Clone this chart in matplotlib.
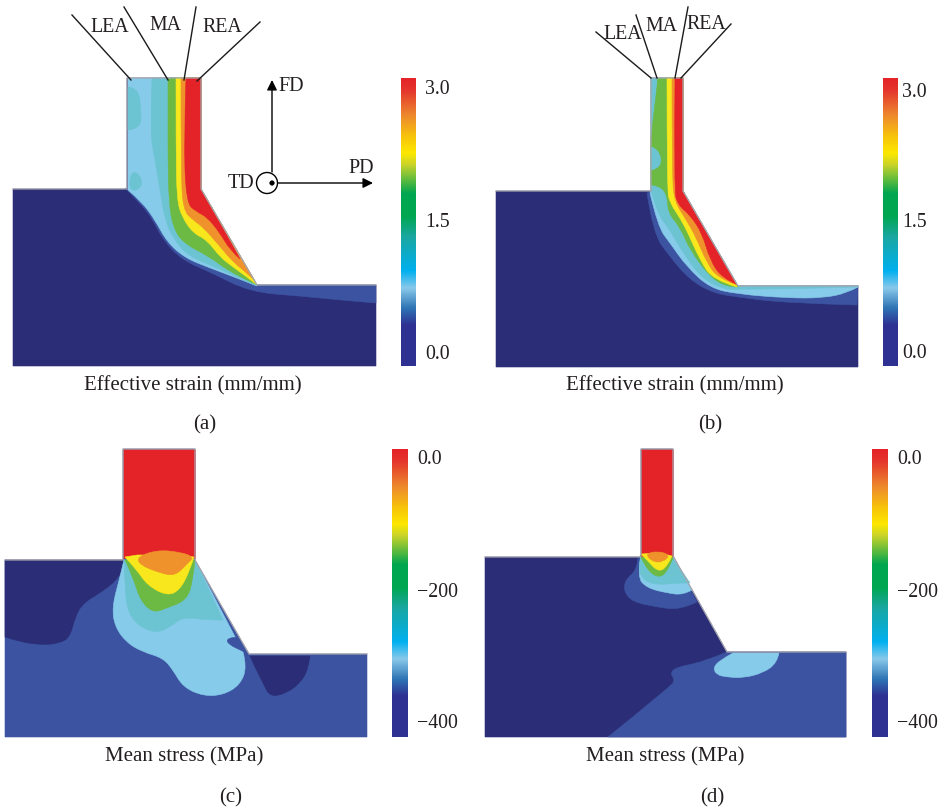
import matplotlib
matplotlib.use("Agg")
import matplotlib.pyplot as plt
import numpy as np
from matplotlib.colors import LinearSegmentedColormap
from matplotlib.patches import Circle, PathPatch
from matplotlib.path import Path

plt.rcParams['font.family'] = ['Liberation Serif', 'DejaVu Serif']

NAVY = "#2b2d76"
BLUE = "#3c53a1"
LIGHT = "#86cbe9"
TEAL = "#6cc4d3"
GREEN = "#6cb944"
YELLOW = "#f8e71c"
ORANGE = "#f0922b"
RED = "#e42329"
TEXT = "#231f20"

# colour scale, value 0 = bottom of the bar
bar_stops = [0.0, 0.14, 0.20, 0.27, 0.33, 0.45, 0.52, 0.60, 0.70, 0.74, 0.80, 0.87, 0.96, 1.0]
bar_colors = ["#2e3192", "#2e3192", "#2f74b5", "#89c9ea", "#00b0ef", "#1aa7a0", "#00a650",
              "#00a650", "#c9d32a", "#fde800", "#f7c20c", "#ee8a2e", "#e4352c", "#e42329"]

# each contour zone: (curved boundary, straight closing points), reference pixel coordinates
# closing list empty = smooth closed blob

# panel (a)
a_outline = [(13, 189), (127, 189), (127, 78), (201, 78), (201, 189), (257, 285), (376, 285), (376, 366), (13, 366)]
a_blue = ([(125, 188), (140, 203), (152, 218), (163, 240), (182, 260), (210, 272), (250, 292), (300, 296), (340, 300),
           (376, 303)], [(376, 285), (257, 285), (201, 189), (127, 189)])
a_light = ([(128, 190), (142, 202), (155, 220), (167, 242), (185, 258), (210, 268), (237, 278), (257, 286)],
           [(201, 189), (201, 78), (128, 78)])
a_teal = ([(152, 78), (150, 133), (155, 160), (160, 190), (165, 220), (173, 238), (187, 255), (210, 265), (257, 286)],
          [(201, 189), (201, 78)])
a_blot1 = ([(128, 87), (138, 88), (141, 108), (141, 129), (128, 130)], [(128, 87)])
a_blot2 = ([(131, 172), (138, 173), (143, 183), (137, 191), (129, 189)], [])
a_green = ([(168, 78), (168, 120), (168, 160), (169, 203), (173, 227), (183, 243), (210, 257), (227, 270), (253, 283),
            (257, 285)], [(201, 189), (201, 78)])
a_yellow = ([(176, 78), (176, 153), (177, 200), (182, 217), (193, 233), (207, 240), (220, 257), (233, 267), (255, 283),
             (257, 285)], [(201, 189), (201, 78)])
a_orange = ([(181, 78), (181, 170), (183, 210), (193, 220), (203, 227), (217, 243), (233, 262), (247, 273), (255, 281)],
            [(201, 189), (201, 78)])
a_red = ([(186, 78), (184, 137), (186, 203), (197, 212), (207, 217), (220, 233), (230, 250), (240, 259)],
         [(201, 189), (201, 78)])

# panel (b)
b_outline = [(496, 191), (651, 191), (651, 78), (683, 78), (683, 191), (738, 286), (858, 286), (858, 367), (496, 367)]
b_blue = ([(647, 193), (653, 233), (670, 257), (690, 280), (713, 293), (737, 297), (787, 303), (857, 305)],
          [(858, 286), (738, 286), (683, 191), (651, 191)])
b_light = ([(650, 193), (658, 227), (670, 243), (687, 267), (710, 288), (737, 294), (787, 298), (823, 298), (847, 293),
            (858, 287)], [(738, 286), (683, 191), (651, 191)])
b_teal = ([(651, 190), (657, 213), (670, 230), (683, 253), (703, 280), (727, 290), (738, 289), (790, 289), (858, 287)],
          [(858, 286), (738, 286), (683, 191), (683, 78), (651, 78)])
b_green = ([(658, 78), (659, 113), (652, 138)], [(651, 138), (651, 185)])
b_green2 = ([(651, 185), (657, 185), (667, 193), (668, 213), (680, 227), (690, 250), (710, 277), (727, 287), (738, 287)],
            [(683, 191), (683, 78), (658, 78), (651, 138)])
b_blot = ([(651, 147), (659, 149), (662, 168), (651, 170)], [(651, 147)])
b_yellow = ([(667, 78), (667, 190), (670, 203), (680, 218), (688, 233), (700, 260), (713, 280), (737, 287)],
            [(683, 191), (683, 78)])
b_orange = ([(672, 78), (672, 180), (675, 202), (685, 218), (695, 235), (707, 263), (718, 278), (737, 285)],
            [(683, 191), (683, 78)])
b_red = ([(675, 78), (674, 190), (678, 205), (690, 215), (702, 233), (710, 260), (722, 278), (736, 284)],
         [(683, 191), (683, 78)])

# panel (c)
c_outline = [(5, 560), (123, 560), (123, 449), (195, 449), (195, 560), (249, 654), (367, 654), (367, 737), (5, 737)]
c_navy1 = ([(123, 560), (123, 567), (117, 580), (100, 593), (83, 603), (75, 617), (70, 637), (60, 643), (43, 645),
            (20, 642), (5, 637)], [(5, 560)])
c_navy2 = ([(310, 656), (308, 670), (300, 683), (287, 693), (270, 697), (263, 683), (255, 667)], [(250, 656)])
c_light = ([(124, 560), (120, 577), (112, 607), (115, 627), (127, 643), (143, 652), (163, 658), (173, 670), (183, 687),
            (203, 696), (223, 695), (240, 685), (247, 667), (243, 652)], [(195, 560)])
c_tongue = ([(249, 654), (240, 650), (230, 645), (226, 640), (233, 637), (240, 638), (249, 654)], [(249, 654)])
c_teal = ([(223, 620), (207, 620), (183, 617), (170, 627), (157, 633), (140, 627), (128, 613), (125, 590), (124, 560)],
          [(195, 560)])
c_green = ([(125, 560), (133, 577), (140, 600), (153, 613), (167, 608), (187, 600), (193, 580), (195, 560)], [(195, 560)])
c_red = ([(123, 449), (195, 449)], [(195, 558), (123, 558)])
c_yellow = ([(125, 557), (137, 570), (147, 585), (167, 596), (180, 590), (190, 570), (194, 557)], [(180, 555), (137, 555)])
c_orange = ([(137, 557), (157, 550), (180, 552), (194, 557), (187, 564), (175, 576), (160, 573), (140, 565)], [])

# panel (d)
d_outline = [(485, 557), (641, 557), (641, 449), (673, 449), (673, 556), (727, 652), (846, 652), (846, 737), (485, 737)]
d_blue1 = ([(608, 737), (670, 687), (675, 680), (670, 673), (677, 667), (703, 662), (727, 652)],
           [(846, 652), (846, 737)])
d_blue2 = ([(638, 558), (637, 570), (625, 580), (624, 592), (633, 602), (657, 607), (680, 610), (697, 602)], [(673, 556)])
d_light1 = ([(641, 556), (637, 577), (647, 588), (667, 593), (683, 595), (692, 590)], [(673, 556)])
d_teal = ([(690, 583), (677, 583), (657, 585), (643, 580), (638, 567), (641, 556)], [(673, 558)])
d_green = ([(640, 555), (645, 567), (657, 578), (667, 573), (673, 558)], [(673, 555)])
d_red = ([(641, 449), (673, 449)], [(673, 556), (641, 556)])
d_yellow = ([(641, 554), (647, 560), (658, 572), (667, 567), (672, 556)], [(660, 553)])
d_orange = ([(645, 554), (658, 551), (670, 555), (663, 562), (653, 562)], [])
d_light2 = ([(733, 653), (720, 660), (713, 668), (717, 675), (727, 677), (743, 678), (763, 673), (777, 663), (779, 653)],
            [(733, 653)])

leader_lines_a = [[(72, 15), (131, 80)], [(124, 7), (168, 80)], [(196, 7), (184, 80)], [(260, 22), (197, 81)]]
leader_lines_b = [[(596, 32), (651, 78)], [(636, 15), (657, 78)], [(688, 7), (675, 78)], [(731, 24), (681, 78)]]

zone_labels = [("LEA", 110, 26), ("MA", 165, 24), ("REA", 222, 26), ("LEA", 623, 33), ("MA", 661, 25), ("REA", 706, 23)]
strain_ticks = ["3.0", "1.5", "0.0"]
stress_ticks = ["0.0", "\u2212200", "\u2212400"]

fig = plt.figure(figsize=(9.4, 8.07), dpi=100)
ax = fig.add_axes([0, 0, 1, 1])
ax.set_xlim(0, 940)
ax.set_ylim(807, 0)
ax.axis("off")


def mid(p, q):
    return ((p[0] + q[0]) / 2, (p[1] + q[1]) / 2)


def zone(shape, color):
    curve, closing = shape
    verts, codes = [], []
    if closing:
        verts.append(curve[0])
        codes.append(Path.MOVETO)
        for i in range(1, len(curve) - 1):
            end = curve[i + 1] if i == len(curve) - 2 else mid(curve[i], curve[i + 1])
            verts += [curve[i], end]
            codes += [Path.CURVE3, Path.CURVE3]
        if len(curve) == 2:
            verts.append(curve[1])
            codes.append(Path.LINETO)
        for p in closing:
            verts.append(p)
            codes.append(Path.LINETO)
    else:
        n = len(curve)
        verts.append(mid(curve[-1], curve[0]))
        codes.append(Path.MOVETO)
        for i in range(n):
            verts += [curve[i], mid(curve[i], curve[(i + 1) % n])]
            codes += [Path.CURVE3, Path.CURVE3]
    verts.append(verts[0])
    codes.append(Path.CLOSEPOLY)
    ax.add_patch(PathPatch(Path(verts, codes), facecolor=color, edgecolor=color, lw=0.4, zorder=2))


def label(x, y, s, size=15, ha="center"):
    ax.text(x, y + 1.5, s, fontsize=size, color=TEXT, ha=ha, va="center", zorder=7)


def colorbar(x0, x1, y0, y1, ticks, tick_x, tick_y):
    cmap = LinearSegmentedColormap.from_list("scale", list(zip(bar_stops, bar_colors)))
    grad = np.linspace(1, 0, 256).reshape(-1, 1)
    ax.imshow(grad, cmap=cmap, extent=(x0, x1, y1, y0), aspect="auto", zorder=3, vmin=0, vmax=1)
    for t, y in zip(ticks, tick_y):
        label(tick_x, y, t, size=14.3, ha="left")


layers_a = [(a_blue, BLUE), (a_light, LIGHT), (a_teal, TEAL), (a_blot1, TEAL), (a_blot2, TEAL),
            (a_green, GREEN), (a_yellow, YELLOW), (a_orange, ORANGE), (a_red, RED)]
layers_b = [(b_blue, BLUE), (b_light, LIGHT), (b_teal, TEAL), (b_green, GREEN), (b_green2, GREEN), (b_blot, TEAL),
            (b_yellow, YELLOW), (b_orange, ORANGE), (b_red, RED)]
layers_c = [(c_navy1, NAVY), (c_navy2, NAVY), (c_light, LIGHT), (c_tongue, BLUE), (c_teal, TEAL),
            (c_green, GREEN), (c_red, RED), (c_yellow, YELLOW), (c_orange, ORANGE)]
layers_d = [(d_blue1, BLUE), (d_blue2, BLUE), (d_light1, LIGHT), (d_light2, LIGHT), (d_teal, TEAL),
            (d_green, GREEN), (d_red, RED), (d_yellow, YELLOW), (d_orange, ORANGE)]

panels = [(a_outline, NAVY, layers_a), (b_outline, NAVY, layers_b), (c_outline, BLUE, layers_c), (d_outline, NAVY, layers_d)]
for body, base, layers in panels:
    zone((body[:2], body[2:]), base)
    for shape, col in layers:
        zone(shape, col)
    # grey rim along the free surface only
    xs, ys = zip(*body[:7])
    ax.plot(xs, ys, color="#a6a6ad", lw=0.9, zorder=5, solid_joinstyle="miter")

colorbar(401, 416, 78, 366, strain_ticks, 425, [88, 221, 353])
colorbar(883, 898, 78, 366, strain_ticks, 902, [91, 221, 352])
colorbar(392, 408, 449, 737, stress_ticks, 417, [458, 591, 722])
colorbar(872, 888, 449, 737, stress_ticks, 897, [458, 591, 722])
ax.set_xlim(0, 940)
ax.set_ylim(807, 0)

for line in leader_lines_a + leader_lines_b:
    xs, ys = zip(*line)
    ax.plot(xs, ys, color="#1a1a1a", lw=1.0, zorder=6)

for name, x, y in zone_labels:
    label(x, y, name, size=14.3)

# coordinate triad in panel (a)
ax.annotate("", xy=(272, 80), xytext=(272, 172), zorder=6,
            arrowprops=dict(arrowstyle="-|>", color="black", lw=1.0, shrinkA=0, shrinkB=0, mutation_scale=15))
ax.annotate("", xy=(373, 183), xytext=(278, 183), zorder=6,
            arrowprops=dict(arrowstyle="-|>", color="black", lw=1.0, shrinkA=0, shrinkB=0, mutation_scale=15))
ax.add_patch(Circle((267, 183), 10.5, facecolor="white", edgecolor="black", lw=1.0, zorder=6))
ax.add_patch(Circle((272, 183), 2.2, facecolor="black", edgecolor="black", lw=0.5, zorder=7))
label(278, 85, "FD", size=14.5, ha="left")
label(361, 167, "PD", size=14.5)
label(241, 182, "TD", size=14.5)

label(193, 384, "Effective strain (mm/mm)")
label(675, 384, "Effective strain (mm/mm)")
label(184, 755, "Mean stress (MPa)")
label(665, 755, "Mean stress (MPa)")

label(205, 423, "(a)")
label(710, 423, "(b)")
label(231, 796, "(c)")
label(712, 796, "(d)")

fig.savefig("out.png", dpi=100)
